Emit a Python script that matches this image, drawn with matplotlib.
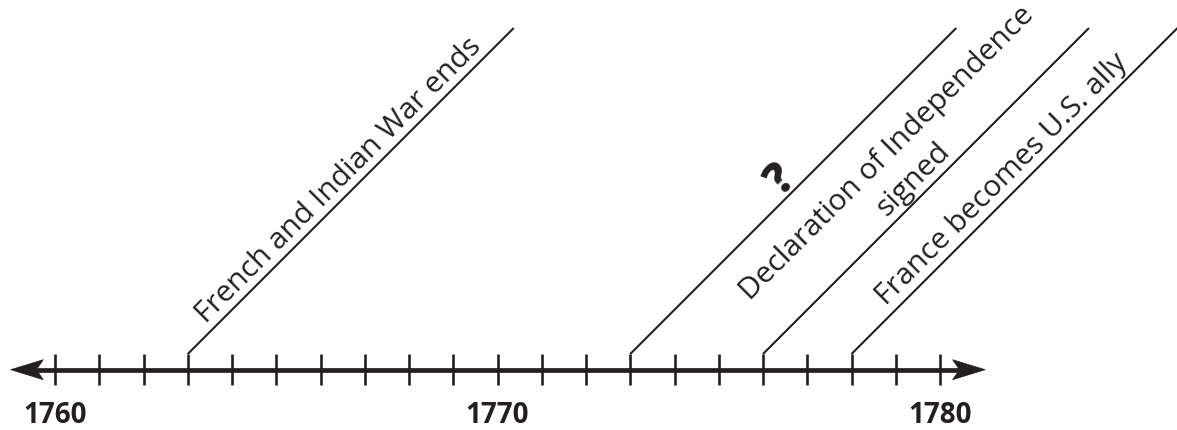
import numpy as np
import matplotlib
matplotlib.use("Agg")
import matplotlib.pyplot as plt
from matplotlib.patches import Polygon

# ---- data ----
start_year = 1760
end_year = 1780
labeled_years = [1760, 1770, 1780]
event_years = [1763, 1773, 1776, 1778]
event_labels = [
    ["French and Indian War ends"],
    ["?"],
    ["Declaration of Independence", "signed"],
    ["France becomes U.S. ally"],
]
event_bold = [False, True, False, False]

# ---- layout (pixel based) ----
W, H = 1177, 431
DPI = 100
ppy = 44.25            # pixels per year
x_first_px = 55        # pixel x of first year
axis_y_px = 370.7      # pixel y (from top) of main axis
tick_top_px = 355
tick_bot_px = 386
line_top_px = 29
ink = "#231f20"

fig = plt.figure(figsize=(W / DPI, H / DPI), dpi=DPI)
ax = fig.add_axes([0, 0, 1, 1])
ax.set_xlim(start_year - x_first_px / ppy, start_year + (W - x_first_px) / ppy)
ax.set_ylim(0, H / ppy)
ax.axis("off")

def ypx(p):
    return (H - p) / ppy

y_axis = ypx(axis_y_px)
y_tt = ypx(tick_top_px)
y_tb = ypx(tick_bot_px)
rise = ypx(line_top_px) - y_tt

# main axis with arrowheads
tip_l = start_year - 1.0
tip_r = end_year + 1.02
alen, ahalf, notch = 0.735, 0.226, 0.58
ax.plot([tip_l + notch, tip_r - notch], [y_axis, y_axis], color=ink, lw=3.4,
        solid_capstyle="butt", zorder=2)
for tip, s in [(tip_l, 1), (tip_r, -1)]:
    poly = Polygon([(tip, y_axis), (tip + s * alen, y_axis + ahalf),
                    (tip + s * notch, y_axis), (tip + s * alen, y_axis - ahalf)],
                   closed=True, facecolor=ink, edgecolor=ink, lw=0.5, zorder=3)
    ax.add_patch(poly)

# ticks
years = np.arange(start_year, end_year + 1)
ax.vlines(years, y_tb, y_tt, color=ink, lw=1.9, zorder=2)

# year labels
for yr in labeled_years:
    ax.text(yr, ypx(423.3), str(yr), ha="center", va="baseline",
            fontsize=20, fontweight="bold", family="Open Sans", color=ink)

# event lines and labels
label_offsets = [[9], [4], [47, 10], [10]]   # baseline distance (px) from line
fs_label = 21.5
for yr, lines, bold, offs in zip(event_years, event_labels, event_bold, label_offsets):
    ax.plot([yr, yr + rise], [y_tt, y_tt + rise], color=ink, lw=1.5,
            solid_capstyle="butt", zorder=2)
    mx, my = yr + rise / 2, y_tt + rise / 2
    for txt, d in zip(lines, offs):
        dpt = d * 72 / DPI / np.sqrt(2)
        ax.annotate(txt, xy=(mx, my), xytext=(-dpt, dpt), textcoords="offset points",
                    rotation=45, rotation_mode="anchor", ha="center", va="baseline",
                    fontsize=(32 if bold else fs_label),
                    fontweight=("heavy" if bold else "normal"),
                    family="Open Sans", color=ink)

fig.savefig("out.png", dpi=DPI)
